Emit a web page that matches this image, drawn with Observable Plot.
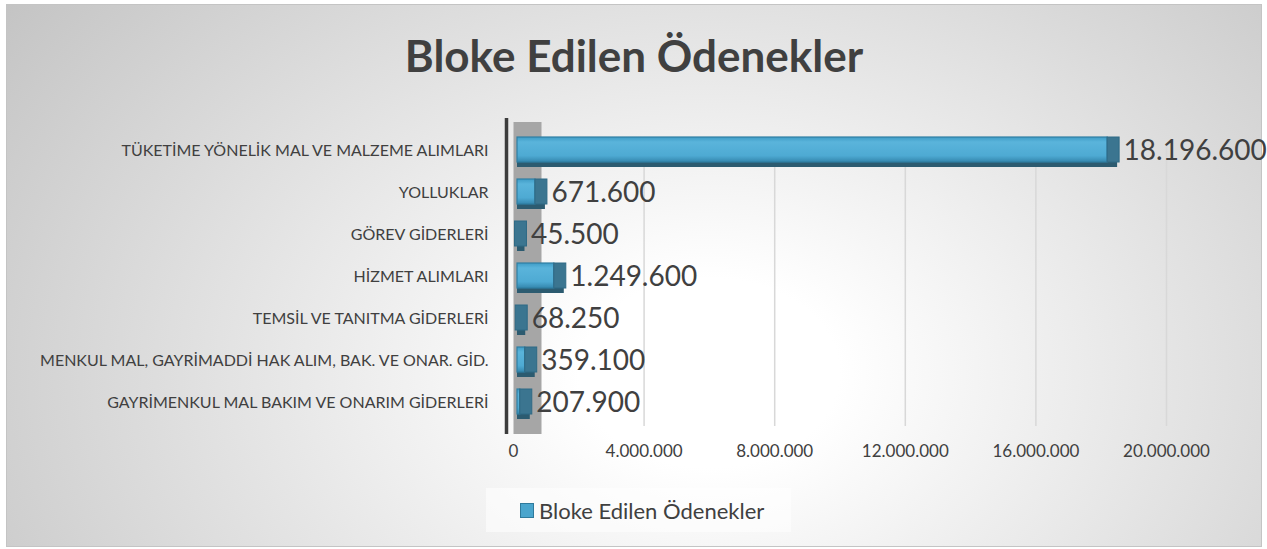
<!DOCTYPE html>
<html>
<head>
<meta charset="utf-8">
<script src="https://cdn.jsdelivr.net/npm/d3@7"></script>
<script src="https://cdn.jsdelivr.net/npm/@observablehq/plot@0.6"></script>
<style>
  html, body { margin: 0; padding: 0; background: #ffffff; }
  body { width: 1267px; height: 549px; position: relative; overflow: hidden; font-family: Lato, "Open Sans", sans-serif; }
  #chart {
    position: absolute; left: 6px; top: 4px; width: 1256px; height: 543px;
    box-sizing: border-box; border: 1px solid #c4c4c4;
    background: radial-gradient(ellipse 74% 125% at 56% 68%, #ffffff 0%, #ffffff 14%, #bfbfbf 100%);
  }
  #title {
    position: absolute; left: 0; top: 24px; width: 100%; text-align: center;
    font-family: Lato, sans-serif; font-weight: 700; font-size: 44px; line-height: 52px; color: #404040;
  }
  #plot { position: absolute; left: 0; top: 101px; }
  #legend {
    position: absolute; left: 479px; top: 483px; width: 305px; height: 44px;
    background: rgba(255,255,255,0.55);
    display: flex; align-items: center; box-sizing: border-box; padding-left: 34px;
    font-family: Lato, sans-serif; font-size: 22px; color: #404040;
  }
  #legend .sw { width: 12px; height: 13px; background: #4aa5cd; border: 1px solid #2f7a9c; margin-right: 5px; }
</style>
</head>
<body>
<div id="chart">
  <div id="title">Bloke Edilen Ödenekler</div>
  <div id="plot"></div>
  <div id="legend"><span class="sw"></span><span id="legendText"></span></div>
</div>
<script>
const seriesName = "Bloke Edilen Ödenekler";
const categories = [
  "TÜKETİME YÖNELİK MAL VE MALZEME ALIMLARI",
  "YOLLUKLAR",
  "GÖREV GİDERLERİ",
  "HİZMET ALIMLARI",
  "TEMSİL VE TANITMA GİDERLERİ",
  "MENKUL MAL, GAYRİMADDİ HAK ALIM, BAK. VE ONAR. GİD.",
  "GAYRİMENKUL MAL BAKIM VE ONARIM GİDERLERİ"
];
const values = [18196600, 671600, 45500, 1249600, 68250, 359100, 207900];
const tickValues = [0, 4000000, 8000000, 12000000, 16000000, 20000000];

const fmt = d => d3.format(",")(d).replace(/,/g, ".");
const data = categories.map((c, i) => ({category: c, value: values[i]}));

document.getElementById("legendText").textContent = seriesName;

const plot = Plot.plot({
  width: 1254,
  height: 370,
  marginLeft: 506,
  marginRight: 95,
  marginTop: 12,
  marginBottom: 42,
  style: {background: "transparent", fontFamily: "Lato, sans-serif", color: "#404040", overflow: "visible"},
  x: {domain: [0, 20000000]},
  y: {domain: categories, padding: 0.36},
  marks: [
    Plot.ruleX(tickValues.slice(1), {stroke: "#d8d8d8", strokeWidth: 1.5, insetTop: 25, insetBottom: 8}),
    Plot.ruleX([0], {stroke: "#a6a6a6", strokeWidth: 28, dx: 14, insetTop: 4}),
    Plot.ruleX([0], {stroke: "#3c3c3c", strokeWidth: 3.5, dx: -7}),
    Plot.barX(data, {x: "value", y: "category", fill: "#2c5b70", dy: 3, insetRight: -10, insetLeft: 4}),
    Plot.barX(data, {x: "value", y: "category", fill: "url(#barGrad)", stroke: "#2f7fa3", strokeWidth: 1.2, insetLeft: 4, insetBottom: 2}),
    Plot.barX(data, {x1: "value", x2: "value", y: "category", insetRight: -12, insetBottom: 2, fill: "#3b7590", stroke: "#2f6a85", strokeWidth: 1}),
    Plot.text(data, {x: "value", y: "category", text: d => fmt(d.value), dx: 16, textAnchor: "start", fontSize: 28, fill: "#404040"}),
    Plot.axisX({ticks: tickValues, tickFormat: fmt, tickSize: 0, tickPadding: 10, fontSize: 17, label: null}),
    Plot.axisY({tickSize: 0, tickPadding: 25, fontSize: 16, label: null})
  ]
});

const defs = d3.select(plot).insert("defs", ":first-child");
const g = defs.append("linearGradient").attr("id", "barGrad").attr("x1", 0).attr("x2", 0).attr("y1", 0).attr("y2", 1);
g.append("stop").attr("offset", "0%").attr("stop-color", "#3f9cc6");
g.append("stop").attr("offset", "20%").attr("stop-color", "#5ab4db");
g.append("stop").attr("offset", "75%").attr("stop-color", "#4eaad3");
g.append("stop").attr("offset", "100%").attr("stop-color", "#3486ad");

document.getElementById("plot").appendChild(plot);
</script>
</body>
</html>
